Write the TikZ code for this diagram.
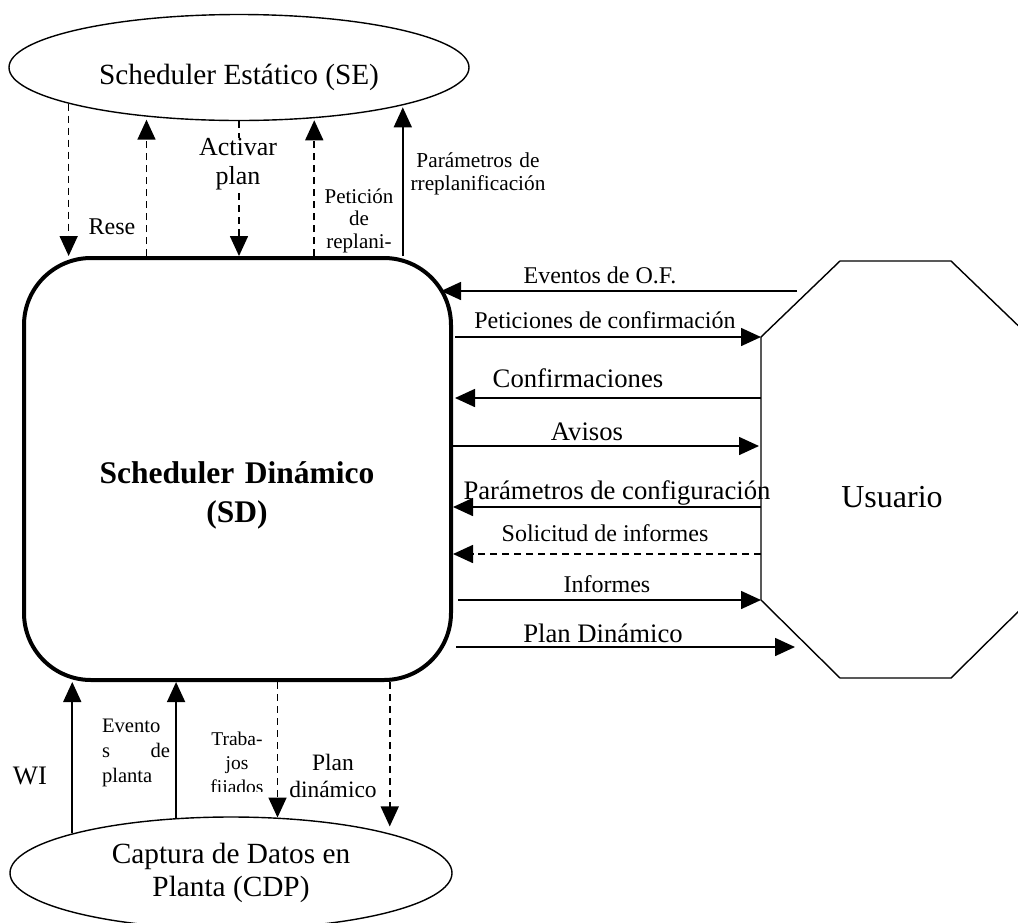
\documentclass[tikz,border=0pt]{standalone}
\usepackage{fontspec}
\setmainfont{Liberation Serif}
\usetikzlibrary{shapes.geometric, arrows.meta}

\tikzset{
  flecha/.style={-{Triangle[length=20pt, width=18pt]}, line width=1.6pt},
  discont/.style={flecha, dash pattern=on 7pt off 5pt},
  chica/.style={font=\fontsize{21}{22.5}\selectfont},
  media/.style={font=\fontsize{24}{27}\selectfont},
  grande/.style={font=\fontsize{26.7}{30}\selectfont},
  titulo/.style={font=\fontsize{29.3}{33}\selectfont},
  rotulo/.style={inner sep=0pt, anchor=base},
}

\begin{document}
\begin{tikzpicture}[x=1pt, y=-1pt]
  % Marco
  \clip (0,0) rectangle (1018,922);

  % Bloques
  \node[draw, ellipse, line width=1.4pt, minimum width=460pt, minimum height=106pt, inner sep=0pt,
        text height=34pt, text depth=0pt, titulo] (SE) at (239,67.5) {Scheduler Estático (SE)};
  \node[draw, rounded corners=67pt, line width=4pt, minimum width=427pt, minimum height=422pt] (SD) at (237.5,469) {};
  \node[rotulo, text width=330pt, align=center, font=\fontsize{31.5}{39}\selectfont\bfseries] (SDtxt) at (237,483) {Scheduler Dinámico\\(SD)};
  \node[draw, ellipse, line width=1.4pt, minimum width=442pt, minimum height=112pt, inner sep=0pt,
        align=center, titulo] (CDP) at (231,873) {Captura de Datos en\\Planta (CDP)};

  % Usuario (octogono)
  \coordinate (uPet) at (761,337);
  \coordinate (uInf) at (761,600);
  \draw[line width=1.4pt] (uPet) -- (840,261) -- (951,261) -- (1030,337) -- (1030,600)
        -- (951,678) -- (840,678) -- (uInf) -- cycle;
  \node[rotulo, font=\fontsize{32}{36}\selectfont] (US) at (892,507) {Usuario};

  % SE <-> SD
  \draw[discont] (SE.192) -- (SE.192 |- SD.north);
  \draw[discont, shorten >=3pt] (SE.208 |- SD.north) -- (SE.208);
  \draw[discont] (SE.south) -- (SE.south |- SD.north);
  \draw[discont, shorten >=2pt] (SE.326 |- SD.north) -- (SE.326);
  \draw[flecha, shorten >=2pt] (SE.347 |- SD.north) -- (SE.347);

  \node[rotulo, media] (lRese) at (112,234) {Rese};
  \node[rotulo, text width=100pt, align=center, fill=white, font=\fontsize{26}{29}\selectfont] (lAct) at (238,155) {Activar\\plan};
  \node[rotulo, text width=90pt, align=center, chica] (lPetR) at (359,203) {Petición\\de\\replani-};
  \node[rotulo, text width=160pt, align=center, font=\fontsize{21.3}{23}\selectfont] (lParR) at (478,167) {Parámetros de\\rreplanificación};

  % SD <-> Usuario
  \coordinate (uEv) at (797,291);
  \coordinate (uConf) at (761,398);
  \coordinate (uAv) at (761,446);
  \coordinate (uPar) at (761,507);
  \coordinate (uSol) at (761,554);
  \coordinate (uPlan) at (795,647);

  \draw[flecha, shorten >=-12pt] (uEv) -- (uEv -| SD.east);
  \draw[flecha, shorten <=2pt] (uPet -| SD.east) -- (uPet);
  \draw[flecha, shorten >=2pt] (uConf) -- (uConf -| SD.east);
  \draw[flecha, shorten >=2pt] (uAv -| SD.east) -- (uAv);
  \draw[flecha] (uPar) -- (uPar -| SD.east);
  \draw[discont] (uSol) -- (uSol -| SD.east);
  \draw[flecha, shorten <=5pt] (uInf -| SD.east) -- (uInf);
  \draw[flecha, shorten <=3pt] (uPlan -| SD.east) -- (uPlan);

  \node[rotulo, media] (lEv) at (600,283) {Eventos de O.F.};
  \node[rotulo, media] (lPet) at (605,328) {Peticiones de confirmación};
  \node[rotulo, grande] (lConf) at (578,387) {Confirmaciones};
  \node[rotulo, grande] (lAv) at (587,440) {Avisos};
  \node[rotulo, grande] (lPar) at (617,499) {Parámetros de configuración};
  \node[rotulo, media] (lSol) at (605,541) {Solicitud de informes};
  \node[rotulo, media] (lInf) at (607,592) {Informes};
  \node[rotulo, grande] (lPlan) at (603,642) {Plan Dinámico};

  % CDP <-> SD
  \draw[flecha] (CDP.166) -- (CDP.166 |- SD.south);
  \draw[flecha] (CDP.135) -- (CDP.135 |- SD.south);
  \draw[discont] (CDP.50 |- SD.south) -- (CDP.50);
  \draw[discont, shorten >=7pt] (CDP.14 |- SD.south) -- (CDP.14);

  \node[rotulo, grande] (lWI) at (30,784) {WI};
  \node[rotulo, text width=68pt, align=left, font=\fontsize{20.6}{25}\selectfont] (lEvP) at (136,732) {Evento\\s\hfill de\\planta};
  \begin{scope}
    \clip (190,700) rectangle (275,791);
    \node[rotulo, text width=80pt, align=center, font=\fontsize{19.5}{24}\selectfont] (lTrab) at (237,745) {Traba-\\jos\\fijados};
  \end{scope}
  \node[rotulo, text width=100pt, align=center, font=\fontsize{23.5}{27}\selectfont] (lPlanD) at (333,770) {Plan\\dinámico};
\end{tikzpicture}
\end{document}
